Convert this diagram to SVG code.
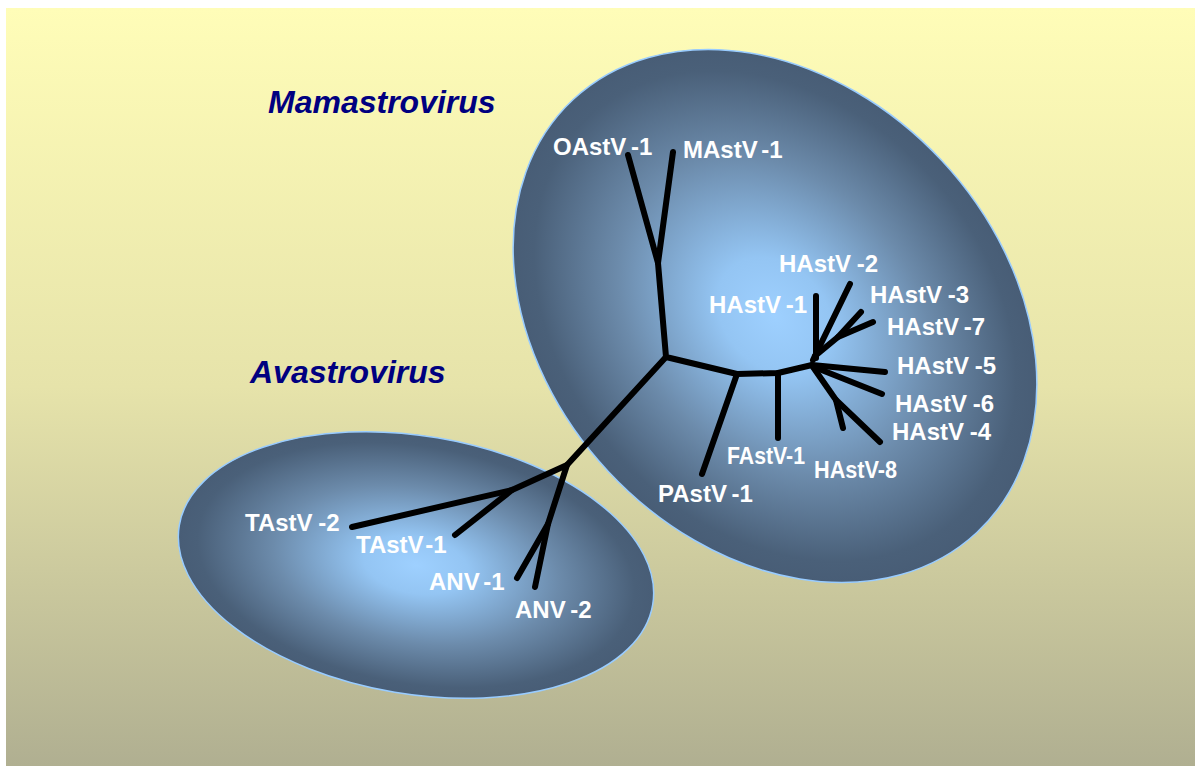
<svg xmlns="http://www.w3.org/2000/svg" width="1195" height="766" viewBox="0 0 1195 766">
  <defs>
    <linearGradient id="bg" x1="0" y1="0" x2="0" y2="1">
      <stop offset="0" stop-color="#FFFDB8"/>
      <stop offset="0.5" stop-color="#E6E3AA"/>
      <stop offset="1" stop-color="#B0AF91"/>
    </linearGradient>
    <radialGradient id="blob" cx="0.5" cy="0.5" r="0.5">
      <stop offset="0" stop-color="#9ED0FF"/>
      <stop offset="0.22" stop-color="#94C5F3"/>
      <stop offset="0.6" stop-color="#6C8BAB"/>
      <stop offset="0.92" stop-color="#4A6079"/>
      <stop offset="1" stop-color="#485D76"/>
    </radialGradient>
    <style>
      .blob { fill: url(#blob); stroke: #99CCFF; stroke-width: 1.5; }
      .br { fill: none; stroke: #000; stroke-width: 6; stroke-linecap: round; stroke-linejoin: round; }
      .lbl { font-family: "Liberation Sans", Arial, sans-serif; font-weight: bold; font-size: 24px; fill: #FFFFFF; }
      .genus { font-family: "Liberation Sans", Arial, sans-serif; font-weight: bold; font-style: italic; font-size: 32px; fill: #000080; }
    </style>
  </defs>

  <rect x="6" y="8" width="1189" height="758" fill="url(#bg)"/>

  <g id="mamastrovirus">
    <ellipse class="blob" cx="775" cy="316" rx="296" ry="228" transform="rotate(47 775 316)"/>
    <text class="genus" x="268" y="113">Mamastrovirus</text>
  </g>

  <g id="avastrovirus">
    <ellipse class="blob" cx="416" cy="565" rx="240" ry="129" transform="rotate(9.5 416 565)"/>
    <text class="genus" x="250" y="383">Avastrovirus</text>
  </g>

  <g id="connectors">
    <path class="br" d="M628,155 L658,263 L673,152"/>
    <path class="br" d="M658,263 L666,357 L737,374 L778,373 L812,365"/>
    <path class="br" d="M737,374 L702,474"/>
    <path class="br" d="M778,373 L778,438"/>
    <path class="br" d="M816,296 L816,358"/>
    <path class="br" d="M813,360 L850,284"/>
    <path class="br" d="M815,356 L838,337 L873,322"/>
    <path class="br" d="M838,337 L861,312"/>
    <path class="br" d="M812,365 L885,372"/>
    <path class="br" d="M814,367 L882,394"/>
    <path class="br" d="M813,367 L836,400 L880,442"/>
    <path class="br" d="M836,400 L843,428"/>
    <path class="br" d="M666,357 L567,465 L512,490 L352,527"/>
    <path class="br" d="M512,490 L455,535"/>
    <path class="br" d="M567,465 L548,524 L535,587"/>
    <path class="br" d="M548,524 L517,578"/>
  </g>

  <g id="OAstV-1"><text class="lbl" x="553" y="155">OAstV<tspan dx="6">-1</tspan></text></g>
  <g id="MAstV-1"><text class="lbl" x="683" y="158">MAstV<tspan dx="5">-1</tspan></text></g>
  <g id="HAstV-2"><text class="lbl" x="779" y="272">HAstV<tspan dx="7">-2</tspan></text></g>
  <g id="HAstV-1"><text class="lbl" x="709" y="313">HAstV<tspan dx="6">-1</tspan></text></g>
  <g id="HAstV-3"><text class="lbl" x="870" y="303">HAstV<tspan dx="7">-3</tspan></text></g>
  <g id="HAstV-7"><text class="lbl" x="887" y="335">HAstV<tspan dx="6">-7</tspan></text></g>
  <g id="HAstV-5"><text class="lbl" x="897" y="374">HAstV<tspan dx="7">-5</tspan></text></g>
  <g id="HAstV-6"><text class="lbl" x="895" y="412">HAstV<tspan dx="7">-6</tspan></text></g>
  <g id="HAstV-4"><text class="lbl" x="892" y="440">HAstV<tspan dx="7">-4</tspan></text></g>
  <g id="FAstV-1"><text class="lbl" x="727" y="464" textLength="78" lengthAdjust="spacingAndGlyphs">FAstV-1</text></g>
  <g id="HAstV-8"><text class="lbl" x="814" y="478" textLength="83" lengthAdjust="spacingAndGlyphs">HAstV-8</text></g>
  <g id="PAstV-1"><text class="lbl" x="658" y="502">PAstV<tspan dx="6">-1</tspan></text></g>
  <g id="TAstV-2"><text class="lbl" x="245" y="531">TAstV<tspan dx="7">-2</tspan></text></g>
  <g id="TAstV-1"><text class="lbl" x="356" y="553">TAstV<tspan dx="3">-1</tspan></text></g>
  <g id="ANV-1"><text class="lbl" x="429" y="590">ANV<tspan dx="5">-1</tspan></text></g>
  <g id="ANV-2"><text class="lbl" x="515" y="618">ANV<tspan dx="6">-2</tspan></text></g>
</svg>
